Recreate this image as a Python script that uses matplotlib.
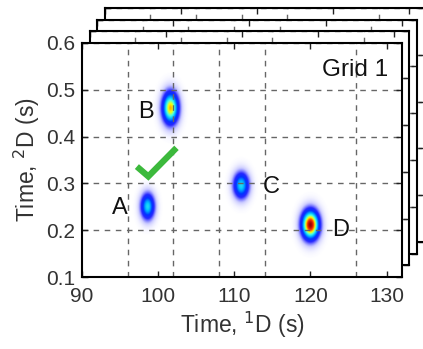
import numpy as np
import matplotlib
matplotlib.use("Agg")
import matplotlib.pyplot as plt
from matplotlib.colors import LinearSegmentedColormap

plt.rcParams["font.family"] = ["Liberation Sans", "DejaVu Sans"]

# peaks
peak_names = ["A", "B", "C", "D"]
peak_t1 = [98.6, 101.6, 110.9, 120.0]        # 1D time (s)
peak_t2 = [0.250, 0.460, 0.295, 0.211]       # 2D time (s)
peak_height = [0.55, 0.80, 0.55, 1.00]
peak_w1 = [0.62, 0.72, 0.70, 0.78]           # spread along 1D
peak_w2 = [0.019, 0.023, 0.019, 0.021]       # spread along 2D

label_x = [95.0, 98.4, 114.8, 123.9]
label_y = [0.247, 0.453, 0.292, 0.200]

check_x = [97.2, 98.7, 102.4]
check_y = [0.336, 0.315, 0.376]

x_ticks = [90, 100, 110, 120, 130]
y_ticks = [0.1, 0.2, 0.3, 0.4, 0.5, 0.6]
x_grid = [96, 102, 108, 114, 120, 126]
n_back = 3

cmap = LinearSegmentedColormap.from_list("wjet", [
    (0.00, (1, 1, 1)),
    (0.08, (0.80, 0.80, 1.0)),
    (0.22, (0.15, 0.15, 1.0)),
    (0.35, (0.0, 0.2, 1.0)),
    (0.50, (0.0, 0.75, 1.0)),
    (0.62, (0.3, 1.0, 0.9)),
    (0.75, (1.0, 1.0, 0.0)),
    (0.88, (1.0, 0.2, 0.0)),
    (1.00, (0.6, 0.0, 0.0)),
])

fig = plt.figure(figsize=(4.23, 3.49), dpi=100)
L, B, W, H = 0.194, 0.206, 0.756, 0.671
dx, dy = 0.0178, 0.0335


def style(ax, labels=True):
    ax.set_xlim(90, 132)
    ax.set_ylim(0.1, 0.6)
    ax.set_xticks(x_ticks)
    ax.set_xticks(x_grid, minor=True)
    ax.set_yticks(y_ticks)
    ax.tick_params(which="major", direction="in", length=4, width=1,
                   top=True, right=True, labelsize=15, colors="#222222",
                   labelcolor="#333333")
    ax.tick_params(axis="x", which="major", pad=7)
    ax.tick_params(axis="y", which="major", pad=5)
    ax.tick_params(which="minor", length=0)
    ax.xaxis.grid(True, which="minor", color="#666666", linestyle=(0, (4, 4)), lw=1)
    ax.yaxis.grid(True, which="major", color="#666666", linestyle=(0, (4, 4)), lw=1)
    for s in ax.spines.values():
        s.set_linewidth(1.5)
    if not labels:
        ax.set_xticklabels([])
        ax.set_yticklabels([])


for k in range(n_back, 0, -1):
    axb = fig.add_axes([L + k * dx, B + k * dy, W, H])
    axb.set_facecolor("white")
    style(axb, labels=False)

ax = fig.add_axes([L, B, W, H])
ax.set_facecolor("white")
style(ax)

t1 = np.linspace(90, 132, 600)
t2 = np.linspace(0.1, 0.6, 600)
T1, T2 = np.meshgrid(t1, t2)
Z = np.zeros_like(T1)
for c1, c2, h, w1, w2 in zip(peak_t1, peak_t2, peak_height, peak_w1, peak_w2):
    Z += h * np.exp(-0.5 * (((T1 - c1) / w1) ** 2 + ((T2 - c2) / w2) ** 2))
ax.imshow(Z, extent=(90, 132, 0.1, 0.6), origin="lower", aspect="auto",
          cmap=cmap, vmin=0, vmax=1, zorder=0, interpolation="bilinear")

for name, lx, ly in zip(peak_names, label_x, label_y):
    ax.text(lx, ly, name, fontsize=17, ha="center", va="center", color="#111111")

ax.plot(check_x, check_y, color="#3cb93c", lw=4.5, solid_capstyle="butt",
        solid_joinstyle="miter", zorder=3)

ax.text(125.8, 0.542, "Grid 1", fontsize=17.5, ha="center", va="center", color="#111111")

ax.set_xlabel("Time, $^1$D (s)", fontsize=16.5, color="#333333", labelpad=3)
ax.set_ylabel("Time, $^2$D (s)", fontsize=16.5, color="#333333", labelpad=3)

fig.savefig("out.png", dpi=100)
